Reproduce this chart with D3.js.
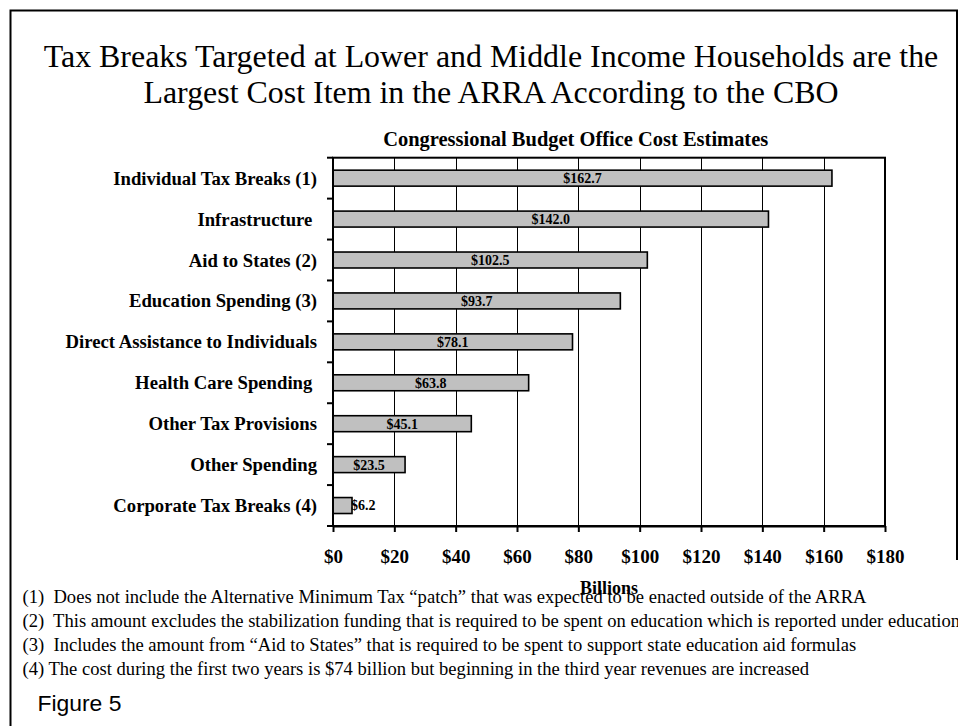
<!DOCTYPE html>
<html>
<head>
<meta charset="utf-8">
<script src="https://cdn.jsdelivr.net/npm/d3@7"></script>
<style>
  html, body { margin: 0; padding: 0; background: #fff; }
  svg { display: block; }
  text { font-family: "Liberation Serif", "Times New Roman", serif; fill: #000; }
</style>
</head>
<body>
<svg id="chart" width="958" height="726"></svg>
<script>
const titleLines = [
  "Tax Breaks Targeted at Lower and Middle Income Households are the",
  "Largest Cost Item in the ARRA According to the CBO"
];
const subtitle = "Congressional Budget Office Cost Estimates";
const categories = [
  "Individual Tax Breaks (1)",
  "Infrastructure ",
  "Aid to States (2)",
  "Education Spending (3)",
  "Direct Assistance to Individuals",
  "Health Care Spending ",
  "Other Tax Provisions",
  "Other Spending",
  "Corporate Tax Breaks (4)"
];
const values = [162.7, 142.0, 102.5, 93.7, 78.1, 63.8, 45.1, 23.5, 6.2];
const xTicks = [0, 20, 40, 60, 80, 100, 120, 140, 160, 180];
const xAxisTitle = "Billions";
const footnotes = [
  "(1)  Does not include the Alternative Minimum Tax \u201Cpatch\u201D that was expected to be enacted outside of the ARRA",
  "(2)  This amount excludes the stabilization funding that is required to be spent on education which is reported under education",
  "(3)  Includes the amount from \u201CAid to States\u201D that is required to be spent to support state education aid formulas",
  "(4) The cost during the first two years is $74 billion but beginning in the third year revenues are increased"
];
const figureLabel = "Figure 5";

const svg = d3.select("#chart");

// scale a text's font so that its width matches a target
function fitWidth(node, target) {
  const fs = parseFloat(getComputedStyle(node).fontSize);
  const w = node.getComputedTextLength();
  return fs * target / w;
}

// outer frame
svg.append("path")
  .attr("d", "M10.5,726 V10.5 H957 V560")
  .attr("fill", "none").attr("stroke", "#000").attr("stroke-width", 2);

// title
const tl = svg.append("g").selectAll("text").data(titleLines).join("text")
  .attr("x", 491)
  .attr("y", (d, i) => 66.7 + i * 36.6)
  .attr("text-anchor", "middle")
  .style("font-size", "31px")
  .text(d => d);
const titleFs = fitWidth(tl.nodes()[0], 895);
tl.style("font-size", titleFs + "px");

const st = svg.append("text")
  .attr("x", 575.7).attr("y", 145.7)
  .attr("text-anchor", "middle")
  .style("font-size", "20.4px").style("font-weight", "bold")
  .text(subtitle);
st.style("font-size", fitWidth(st.node(), 385) + "px");

const pLeft = 333, pRight = 885, pTop = 157.7, pBottom = 526;
const x = d3.scaleLinear().domain([0, 180]).range([pLeft, pRight]);
const y = d3.scaleBand().domain(categories).range([pTop, pBottom]).paddingInner(0);
const bw = y.bandwidth();
const barH = bw * 0.39;

// gridlines
svg.append("g").selectAll("line").data(xTicks.filter(t => t > 0 && t < 180)).join("line")
  .attr("x1", d => Math.round(x(d)) + 0.5).attr("x2", d => Math.round(x(d)) + 0.5)
  .attr("y1", pTop).attr("y2", pBottom)
  .attr("stroke", "#000").attr("stroke-width", 1);

// bars
svg.append("g").selectAll("rect").data(values).join("rect")
  .attr("x", x(0))
  .attr("y", (d, i) => y(categories[i]) + (bw - barH) / 2)
  .attr("width", d => x(d) - x(0))
  .attr("height", barH)
  .attr("fill", "#c0c0c0")
  .attr("stroke", "#000").attr("stroke-width", 1.6);

// plot frame
svg.append("rect")
  .attr("x", pLeft).attr("y", pTop).attr("width", pRight - pLeft).attr("height", pBottom - pTop)
  .attr("fill", "none").attr("stroke", "#000").attr("stroke-width", 2);

// y boundary ticks
const bounds = categories.map(c => y(c)).concat([pBottom]);
svg.append("g").selectAll("line").data(bounds).join("line")
  .attr("x1", pLeft - 6).attr("x2", pLeft)
  .attr("y1", d => d).attr("y2", d => d)
  .attr("stroke", "#000").attr("stroke-width", 2);

// y labels
const yAxis = svg.append("g")
  .attr("transform", `translate(${pLeft},0)`)
  .call(d3.axisLeft(y).tickSize(0).tickPadding(16));
yAxis.select(".domain").remove();
yAxis.selectAll("text")
  .style("font-family", "'Liberation Serif', 'Times New Roman', serif")
  .style("font-size", "18.7px").style("font-weight", "bold")
  .style("white-space", "pre")
  .attr("dy", "0.35em");

// x axis
const xAxis = svg.append("g")
  .attr("transform", `translate(0,${pBottom})`)
  .call(d3.axisBottom(x).tickValues(xTicks).tickFormat(d => "$" + d)
        .tickSize(6).tickSizeOuter(0).tickPadding(17.5));
xAxis.select(".domain").attr("stroke-width", 2);
xAxis.selectAll(".tick line").attr("stroke-width", 2);
xAxis.selectAll("text")
  .style("font-family", "'Liberation Serif', 'Times New Roman', serif")
  .style("font-size", "19px").style("font-weight", "bold");

// value labels
const fmt = d3.format("$.1f");
const vl = svg.append("g").selectAll("text").data(values).join("text")
  .attr("y", (d, i) => y(categories[i]) + bw / 2)
  .attr("dy", "0.35em")
  .style("font-size", "14px").style("font-weight", "bold")
  .text(d => fmt(d));
vl.each(function(d) {
  const t = d3.select(this);
  const w = this.getComputedTextLength();
  const bwid = x(d) - x(0);
  if (w > bwid) {
    t.attr("x", x(d) - 1).attr("text-anchor", "start");
  } else {
    t.attr("x", (x(0) + x(d)) / 2).attr("text-anchor", "middle");
  }
});

// axis title
svg.append("text")
  .attr("x", (pLeft + pRight) / 2).attr("y", 594)
  .attr("text-anchor", "middle")
  .style("font-size", "18px").style("font-weight", "bold")
  .text(xAxisTitle);

// footnotes
const fn = svg.append("g").selectAll("text").data(footnotes).join("text")
  .attr("x", 22.5)
  .attr("y", (d, i) => 602.5 + i * 24)
  .style("font-size", "18px")
  .style("white-space", "pre")
  .text(d => d);
const fnFs = (fitWidth(fn.nodes()[0], 866.7 - 22.5) + fitWidth(fn.nodes()[2], 855 - 22.5) + fitWidth(fn.nodes()[3], 812 - 22.5)) / 3;
fn.style("font-size", fnFs + "px");

const fig = svg.append("text")
  .attr("x", 37.5).attr("y", 710.7)
  .style("font-family", "'Liberation Sans', Arial, sans-serif")
  .style("font-size", "22px")
  .text(figureLabel);
fig.style("font-size", fitWidth(fig.node(), 84) + "px");
</script>
</body>
</html>
